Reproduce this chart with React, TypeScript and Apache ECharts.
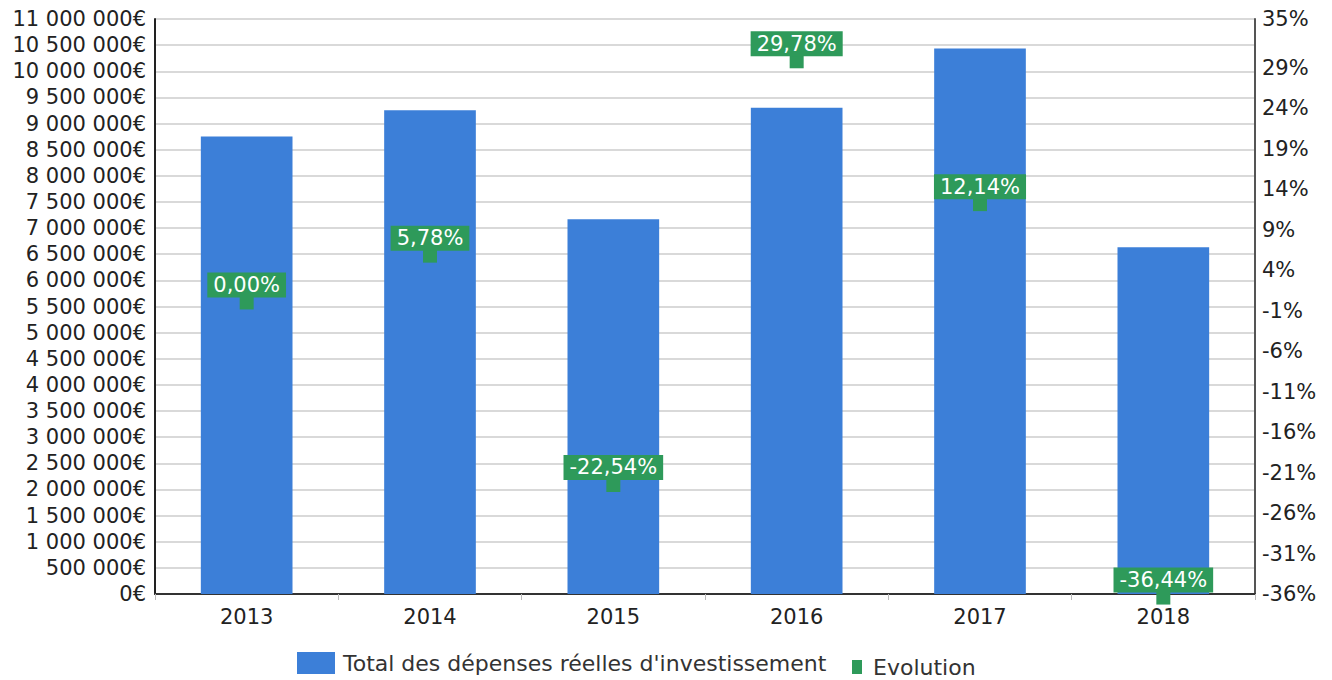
import React, { useEffect, useRef } from "react";
import * as echarts from "echarts";

const categories = ["2013", "2014", "2015", "2016", "2017", "2018"];
const depenses = [8750000, 9255000, 7169000, 9304000, 10434000, 6632000];
const evolution = [0.0, 5.78, -22.54, 29.78, 12.14, -36.44];
const rightTicks = [-36, -31, -26, -21, -16, -11, -6, -1, 4, 9, 14, 19, 24, 29, 35];

const BAR_NAME = "Total des dépenses réelles d'investissement";
const EVO_NAME = "Evolution";
const BLUE = "#3c7fd8";
const GREEN = "#2e9a5a";
const FONT = "DejaVu Sans";

function fmtEuro(v: number): string {
  const s = Math.round(v).toString().replace(/\B(?=(\d{3})+(?!\d))/g, " ");
  return s + "€";
}

export default function App() {
  const ref = useRef<HTMLDivElement>(null);
  useEffect(() => {
    if (!ref.current) return;
    const chart = echarts.init(ref.current, undefined, { renderer: "svg" });
    chart.setOption({
      animation: false,
      backgroundColor: "#ffffff",
      textStyle: { fontFamily: FONT },
      grid: { left: 155, right: 77, top: 19, bottom: 86 },
      legend: [
        {
          data: [{ name: BAR_NAME, icon: "rect" }],
          left: 297,
          top: 652,
          padding: 0,
          itemWidth: 38,
          itemHeight: 22,
          width: 600,
          textStyle: { fontFamily: FONT, fontSize: 22, color: "#333", padding: [0, 0, 0, 3] },
        },
        {
          data: [{ name: EVO_NAME, icon: "rect" }],
          left: 852,
          top: 656,
          padding: 0,
          itemWidth: 10,
          itemHeight: 14,
          width: 300,
          textStyle: { fontFamily: FONT, fontSize: 22, color: "#333", padding: [0, 0, 0, 6] },
        },
      ],
      xAxis: {
        type: "category",
        data: categories,
        axisLine: { lineStyle: { color: "#333", width: 2 } },
        axisTick: { show: true, length: 6, lineStyle: { color: "#bbb" } },
        axisLabel: { fontFamily: FONT, fontSize: 21, color: "#222", margin: 12 },
      },
      yAxis: [
        {
          type: "value",
          min: 0,
          max: 11000000,
          interval: 500000,
          axisLine: { show: true, lineStyle: { color: "#222", width: 2 } },
          axisTick: { show: false },
          splitLine: { lineStyle: { color: "#cccccc", width: 1.5 } },
          axisLabel: {
            fontFamily: FONT,
            fontSize: 21,
            color: "#222",
            margin: 9,
            formatter: (v: number) => fmtEuro(v),
          },
        },
        {
          type: "value",
          min: -36,
          max: 35,
          position: "right",
          axisLine: { show: true, lineStyle: { color: "#555", width: 2 } },
          axisTick: { show: false },
          splitLine: { show: false },
          axisLabel: {
            fontFamily: FONT,
            fontSize: 21,
            color: "#222",
            margin: 7,
            customValues: rightTicks,
            formatter: (v: number) => v + "%",
          },
        },
      ],
      series: [
        {
          name: BAR_NAME,
          type: "bar",
          data: depenses,
          barWidth: "50%",
          itemStyle: { color: BLUE },
          yAxisIndex: 0,
        },
        {
          name: EVO_NAME,
          type: "scatter",
          data: evolution,
          yAxisIndex: 1,
          clip: false,
          symbol: "rect",
          symbolSize: 14,
          itemStyle: { color: GREEN, opacity: 1 },
          emphasis: { disabled: true },
          label: {
            show: true,
            position: "top",
            distance: -2,
            backgroundColor: GREEN,
            color: "#ffffff",
            opacity: 1,
            fontFamily: FONT,
            fontSize: 21,
            padding: [2, 6, 2, 6],
            formatter: (p: any) => Number(p.value).toFixed(2).replace(".", ",") + "%",
          },
          z: 5,
        },
      ],
    });
    return () => chart.dispose();
  }, []);
  return (
    <div
      ref={ref}
      style={{ position: "fixed", left: 0, top: 0, width: 1332, height: 680, background: "#fff" }}
    />
  );
}
